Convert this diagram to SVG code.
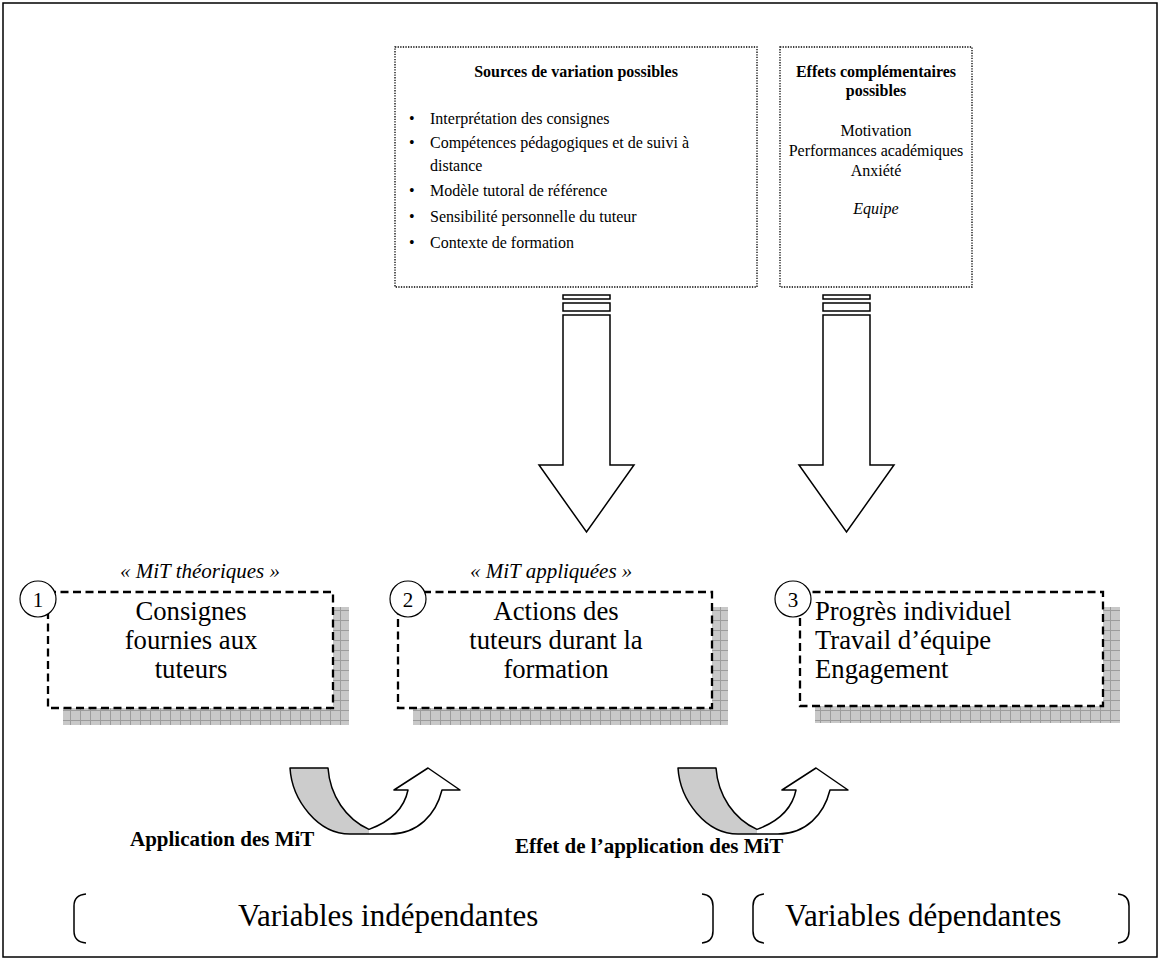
<svg xmlns="http://www.w3.org/2000/svg" xmlns:xlink="http://www.w3.org/1999/xlink" width="1161" height="967" viewBox="0 0 1161 967">
<defs>
<style>
.t{font-family:"Liberation Serif","Times New Roman",serif;fill:#000}
.m{font-size:16px}
.b{font-weight:bold}
.i{font-style:italic}
.big{font-size:26.7px}
.lab{font-size:21px;font-weight:bold}
.mit{font-size:21px;font-style:italic}
.num{font-size:21px}
.dot{fill:#fff;stroke:#000;stroke-width:1.3;stroke-dasharray:1.3 1.3}
.dash{fill:#fff;stroke:#000;stroke-width:2.3;stroke-dasharray:8 4.5}
.ln{fill:none;stroke:#000;stroke-width:1.5}
.arw{fill:#fff;stroke:#000;stroke-width:1.5}
.circ{fill:#fff;stroke:#000;stroke-width:1.2}
</style>
<pattern id="grid" width="10" height="10" patternUnits="userSpaceOnUse">
<rect width="10" height="10" fill="#c8c8c8"/>
<path d="M0 0.5H10M0.5 0V10" stroke="#9c9c9c" stroke-width="1"/>
</pattern>
<g id="curl">
<path d="M0,0 L38,0 C40,27.8 56,51 79,61.4 L79,66 L60,66 C28,66 2,32.4 0,0 Z" fill="#cccccc"/>
<path d="M79,61.4 C98,54.4 114,41.7 118,22 L104,22 L138,0 L170,22 L152,22 C146,46.3 128,66 100,66 L79,66 Z" fill="#fff"/>
<path d="M38,0 L0,0 C2,32.4 28,66 60,66 L100,66 C128,66 146,46.3 152,22 L170,22 L138,0 L104,22 L118,22 C114,41.7 98,54.4 79,61.4 C56,51 40,27.8 38,0 Z" class="ln" stroke-linejoin="round"/>
</g>
</defs>

<rect x="3" y="3" width="1154" height="954" class="ln"/>

<g id="sources">
<rect x="395" y="47" width="362" height="240" class="dot"/>
<text class="t m b" x="576" y="77" text-anchor="middle">Sources de variation possibles</text>
<g class="t m">
<text x="409" y="124">•</text><text x="430" y="124">Interprétation des consignes</text>
<text x="409" y="148">•</text><text x="430" y="148">Compétences pédagogiques et de suivi à</text>
<text x="430" y="171">distance</text>
<text x="409" y="196">•</text><text x="430" y="196">Modèle tutoral de référence</text>
<text x="409" y="222">•</text><text x="430" y="222">Sensibilité personnelle du tuteur</text>
<text x="409" y="248">•</text><text x="430" y="248">Contexte de formation</text>
</g>
</g>

<g id="effets">
<rect x="780" y="47" width="192" height="240" class="dot"/>
<g class="t m" text-anchor="middle">
<text class="b" x="876" y="77">Effets complémentaires</text>
<text class="b" x="876" y="96">possibles</text>
<text x="876" y="136">Motivation</text>
<text x="876" y="156">Performances académiques</text>
<text x="876" y="176">Anxiété</text>
<text class="i" x="876" y="214">Equipe</text>
</g>
</g>

<g id="node1">
<rect x="63" y="607" width="286" height="118" fill="url(#grid)"/>
<rect x="48" y="592" width="285" height="116" class="dash"/>
<circle cx="38" cy="599" r="18" class="circ"/>
<text class="t num" x="38" y="606.5" text-anchor="middle">1</text>
<text class="t mit" x="120" y="578">« MiT théoriques »</text>
<g class="t big" text-anchor="middle">
<text x="191" y="620">Consignes</text>
<text x="191" y="649">fournies aux</text>
<text x="191" y="678">tuteurs</text>
</g>
</g>

<g id="node2">
<rect x="413" y="607" width="315" height="118" fill="url(#grid)"/>
<rect x="398" y="592" width="314" height="116" class="dash"/>
<circle cx="408" cy="599" r="18" class="circ"/>
<text class="t num" x="408" y="606.5" text-anchor="middle">2</text>
<text class="t mit" x="470" y="578">« MiT appliquées »</text>
<g class="t big" text-anchor="middle">
<text x="556" y="620">Actions des</text>
<text x="556" y="649">tuteurs durant la</text>
<text x="556" y="678">formation</text>
</g>
</g>

<g id="node3">
<rect x="815" y="607" width="305" height="116" fill="url(#grid)"/>
<rect x="800" y="592" width="303" height="114" class="dash"/>
<circle cx="793" cy="599" r="18" class="circ"/>
<text class="t num" x="793" y="606.5" text-anchor="middle">3</text>
<g class="t big">
<text x="815" y="620">Progrès individuel</text>
<text x="815" y="649">Travail d’équipe</text>
<text x="815" y="678">Engagement</text>
</g>
</g>

<g id="connectors">
<rect x="563" y="295" width="47" height="4" class="arw"/>
<rect x="563" y="303" width="47" height="8" class="arw"/>
<path d="M563,315 H610 V465 H634 L586.5,532 L539,465 H563 Z" class="arw"/>
<rect x="823" y="295" width="47" height="4" class="arw"/>
<rect x="823" y="303" width="47" height="8" class="arw"/>
<path d="M823,315 H870 V465 H894 L846.5,532 L799,465 H823 Z" class="arw"/>
<use xlink:href="#curl" href="#curl" transform="translate(290,768)"/>
<use xlink:href="#curl" href="#curl" transform="translate(678,768)"/>
</g>

<g id="labels">
<text class="t lab" x="130" y="846">Application des MiT</text>
<text class="t lab" x="515" y="853">Effet de l’application des MiT</text>
</g>

<g id="brackets">
<path d="M86,894 Q74,895 74,906 V931 Q74,942 86,943" class="ln"/>
<path d="M702,894 Q713,895 713,906 V931 Q713,942 702,943" class="ln"/>
<path d="M764,894 Q753,895 753,906 V931 Q753,942 764,943" class="ln"/>
<path d="M1118,894 Q1129,895 1129,906 V931 Q1129,942 1118,943" class="ln"/>
<text class="t" font-size="31" x="238" y="926">Variables indépendantes</text>
<text class="t" font-size="31" x="785" y="926">Variables dépendantes</text>
</g>
</svg>
